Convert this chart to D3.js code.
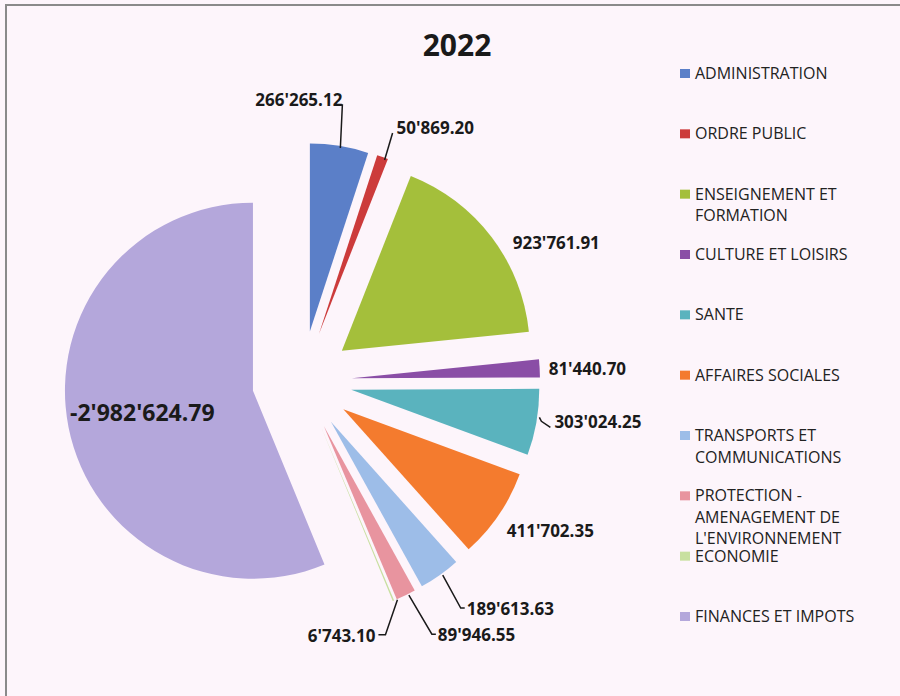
<!DOCTYPE html>
<html>
<head>
<meta charset="utf-8">
<script src="https://cdn.jsdelivr.net/npm/d3@7"></script>
<style>
  body { margin: 0; background: #fdf5fb; }
  svg { display: block; }
</style>
</head>
<body>
<svg id="chart" width="900" height="696"></svg>
<script>
// data
const categories = ["ADMINISTRATION", "ORDRE PUBLIC", "ENSEIGNEMENT ET FORMATION", "CULTURE ET LOISIRS",
  "SANTE", "AFFAIRES SOCIALES", "TRANSPORTS ET COMMUNICATIONS",
  "PROTECTION - AMENAGEMENT DE L'ENVIRONNEMENT", "ECONOMIE", "FINANCES ET IMPOTS"];
const values = [266265.12, 50869.20, 923761.91, 81440.70, 303024.25, 411702.35, 189613.63, 89946.55, 6743.10, -2982624.79];
const valueLabels = ["266'265.12", "50'869.20", "923'761.91", "81'440.70", "303'024.25", "411'702.35",
  "189'613.63", "89'946.55", "6'743.10", "-2'982'624.79"];
const legendLines = [["ADMINISTRATION"], ["ORDRE PUBLIC"], ["ENSEIGNEMENT ET", "FORMATION"], ["CULTURE ET LOISIRS"],
  ["SANTE"], ["AFFAIRES SOCIALES"], ["TRANSPORTS ET", "COMMUNICATIONS"],
  ["PROTECTION -", "AMENAGEMENT DE", "L'ENVIRONNEMENT"], ["ECONOMIE"], ["FINANCES ET IMPOTS"]];
const colors = ["#5b7fc8", "#cc3b3b", "#a4bf3b", "#8a4ea6", "#5ab3be", "#f47b2e", "#9dbde8", "#e8949f", "#c8e0a0", "#b4a7db"];
const title = "2022";

// layout
const width = 900, height = 696;
const cx = 302, cy = 381, radius = 188, explode = 50;
// label offset from the outer point of each slice: [dx, dy, anchor, leader?]
const labelPlace = [
  [3, -40, "end", true], [14, -23, "start", true], [21, 12, "start", false], [9, 7, "start", false],
  [18, 6, "start", true], [8, 22, "start", false], [27, 40, "start", true], [32, 46, "start", true],
  [-18, 41, "end", true], [0, 0, "middle", false]
];

const svg = d3.select("#chart");

// frame
svg.append("path")
  .attr("d", "M6,696 V5 H900")
  .attr("fill", "none")
  .attr("stroke", "#8a8a8a")
  .attr("stroke-width", 2);

svg.append("text")
  .attr("x", 457)
  .attr("y", 56)
  .attr("text-anchor", "middle")
  .style("font", "bold 30px 'Open Sans', sans-serif")
  .style("fill", "#1a1a1a")
  .text(title);

const pie = d3.pie().sort(null).value(d => Math.abs(d));
const arcs = pie(values);
const arc = d3.arc().innerRadius(0).outerRadius(radius);
const rim = d3.arc().innerRadius(radius).outerRadius(radius);
const finRim = d3.arc().innerRadius(radius * 0.6).outerRadius(radius * 0.6);

function offset(d) {
  const a = (d.startAngle + d.endAngle) / 2;
  return [explode * Math.sin(a), -explode * Math.cos(a)];
}

const slices = svg.append("g")
  .attr("transform", "translate(" + cx + "," + cy + ")");

slices.selectAll("path.slice")
  .data(arcs)
  .enter().append("path")
  .attr("class", "slice")
  .attr("transform", d => "translate(" + offset(d) + ")")
  .attr("d", arc)
  .attr("fill", (d, i) => colors[i]);

// value labels
arcs.forEach(function(d, i) {
  const o = offset(d);
  const p = labelPlace[i];
  let x, y;
  if (i === arcs.length - 1) {
    const c = finRim.centroid(d);
    x = c[0] + o[0]; y = c[1] + o[1] + 8;
    slices.append("text")
      .attr("x", x).attr("y", y)
      .attr("text-anchor", "middle")
      .style("font", "bold 23px 'Open Sans', sans-serif")
      .style("fill", "#1a1a1a")
      .text(valueLabels[i]);
    return;
  }
  const c = rim.centroid(d);
  const ax = c[0] + o[0], ay = c[1] + o[1];
  x = ax + p[0]; y = ay + p[1];
  if (p[3]) {
    let pts;
    if (i === 0) pts = [[ax + 1, ay + 2], [x, y - 1], [x - 5, y - 1]];
    else if (i === 1) pts = [[ax + 2, ay + 3], [x - 4, y - 1]];
    else if (i === 4) pts = [[ax + 3, ay - 5], [ax + 5, ay - 1], [x - 4, y - 1]];
    else if (p[2] === "end") pts = [[ax + 4, ay - 1], [x + 10, y - 7], [x + 3, y - 7]];
    else pts = [[ax + 3, ay], [x - 6, y - 7], [x - 2, y - 7]];
    slices.append("path")
      .attr("d", d3.line()(pts))
      .attr("fill", "none")
      .attr("stroke", "#1a1a1a")
      .attr("stroke-width", 1.5);
  }
  slices.append("text")
    .attr("x", x).attr("y", y)
    .attr("text-anchor", p[2])
    .style("font", "bold 17px 'Open Sans', sans-serif")
    .style("fill", "#1a1a1a")
    .text(valueLabels[i]);
});

// legend
const legendY = d3.scalePoint().domain(categories).range([74, 617]);
const legend = svg.append("g");

const item = legend.selectAll("g.item")
  .data(categories)
  .enter().append("g")
  .attr("class", "item")
  .attr("transform", d => "translate(680," + legendY(d) + ")");

item.append("rect")
  .attr("x", 0).attr("y", -5)
  .attr("width", 10).attr("height", 9)
  .attr("fill", (d, i) => colors[i]);

item.append("text")
  .attr("x", 15)
  .attr("y", 5)
  .style("font", "16px 'Open Sans', sans-serif")
  .style("fill", "#222")
  .selectAll("tspan")
  .data((d, i) => legendLines[i])
  .enter().append("tspan")
  .attr("x", 15)
  .attr("dy", (d, j) => j === 0 ? 0 : 21.5)
  .text(d => d);
</script>
</body>
</html>
